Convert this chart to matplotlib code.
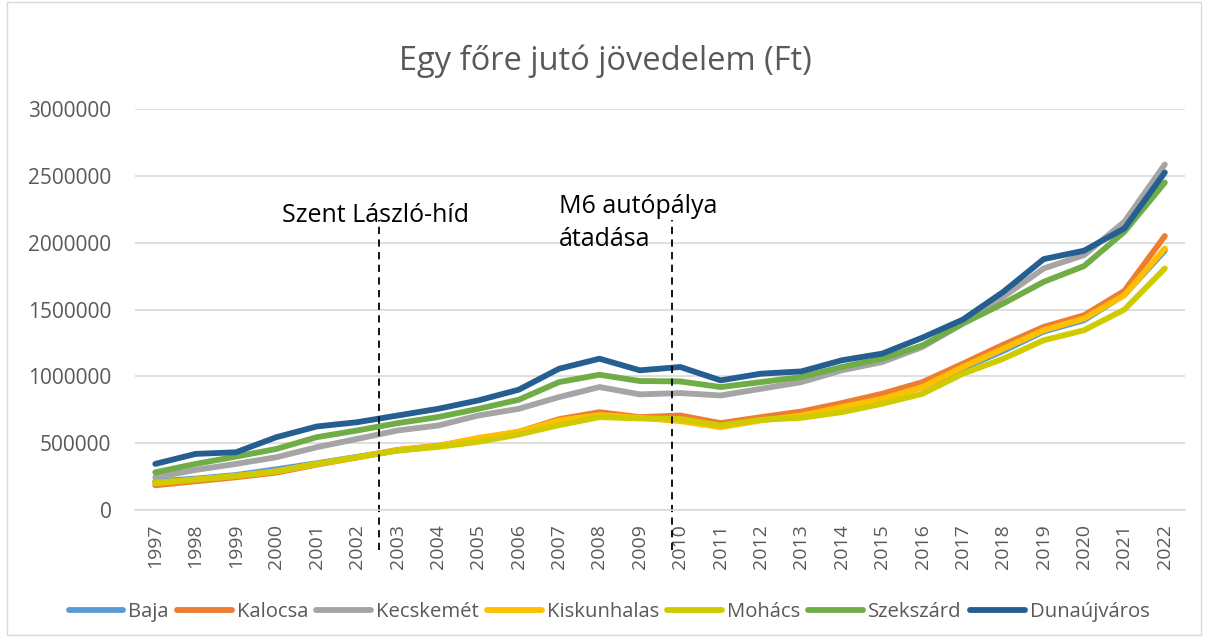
import numpy as np
import matplotlib
matplotlib.use("Agg")
from matplotlib import pyplot as plt
from matplotlib.patches import Rectangle

plt.rcParams['font.family'] = ['Open Sans', 'DejaVu Sans']

years = [str(y) for y in range(1997, 2023)]

baja = [215000, 235000, 262000, 305000, 350000, 398000, 445000, 478000, 530000, 575000,
        665000, 715000, 690000, 680000, 635000, 680000, 715000, 770000, 835000, 920000,
        1060000, 1190000, 1335000, 1420000, 1610000, 1940000]
kalocsa = [185000, 215000, 245000, 280000, 340000, 393000, 450000, 480000, 535000, 585000,
           680000, 732000, 695000, 707000, 650000, 695000, 737000, 800000, 870000, 957000,
           1095000, 1237000, 1370000, 1457000, 1640000, 2050000]
kecskemet = [245000, 300000, 345000, 395000, 470000, 532000, 595000, 632000, 707000, 757000,
             845000, 920000, 865000, 875000, 857000, 907000, 957000, 1045000, 1107000, 1220000,
             1395000, 1595000, 1807000, 1907000, 2157000, 2585000]
kiskunhalas = [200000, 228000, 255000, 290000, 345000, 395000, 448000, 478000, 540000, 585000,
               670000, 710000, 690000, 665000, 620000, 670000, 707000, 770000, 832000, 920000,
               1070000, 1207000, 1345000, 1432000, 1607000, 1957000]
mohacs = [205000, 228000, 255000, 288000, 345000, 395000, 445000, 472000, 510000, 565000,
          635000, 695000, 685000, 682000, 632000, 675000, 690000, 732000, 795000, 870000,
          1020000, 1132000, 1270000, 1345000, 1500000, 1807000]
szekszard = [282000, 345000, 400000, 457000, 545000, 595000, 650000, 695000, 757000, 825000,
             957000, 1012000, 965000, 962000, 920000, 957000, 995000, 1070000, 1132000, 1232000,
             1395000, 1545000, 1707000, 1825000, 2082000, 2450000]
dunaujvaros = [345000, 420000, 432000, 545000, 625000, 657000, 707000, 757000, 820000, 900000,
               1057000, 1132000, 1045000, 1070000, 970000, 1020000, 1037000, 1120000, 1170000, 1290000,
               1425000, 1632000, 1877000, 1940000, 2107000, 2525000]

series = [
    ("Baja", baja, "#5B9BD5"),
    ("Kalocsa", kalocsa, "#ED7D31"),
    ("Kecskemét", kecskemet, "#A5A5A5"),
    ("Kiskunhalas", kiskunhalas, "#FFC000"),
    ("Mohács", mohacs, "#CFCB00"),
    ("Szekszárd", szekszard, "#70AD47"),
    ("Dunaújváros", dunaujvaros, "#255E91"),
]

# event markers, x in category units
event_x = [5.55, 12.8]
event_top = 2170000

fig = plt.figure(figsize=(12.06, 6.43), dpi=100)
ax = fig.add_axes([0.112, 0.2068, 0.8706, 0.6237])

x = np.arange(len(years))
for name, vals, col in series:
    ax.plot(x, vals, color=col, lw=4.2, label=name, solid_capstyle='round', solid_joinstyle='round')

ax.set_xlim(-0.5, len(years) - 0.5)
ax.set_ylim(0, 3000000)
ax.set_yticks(np.arange(0, 3000001, 500000))
ax.set_yticklabels([str(v) for v in range(0, 3000001, 500000)])
ax.set_xticks(x)
ax.set_xticklabels(years, rotation=90)
ax.tick_params(axis='both', length=0, colors='#595959')
ax.tick_params(axis='x', pad=10, labelsize=14)
ax.tick_params(axis='y', pad=17, labelsize=15)
ax.grid(axis='y', color='#D9D9D9', lw=1.2)
ax.set_axisbelow(True)
for s in ['top', 'right', 'left']:
    ax.spines[s].set_visible(False)
ax.spines['bottom'].set_color('#D9D9D9')
ax.spines['bottom'].set_linewidth(1.2)

# dashed event lines and labels
for ex in event_x:
    ax.plot([ex, ex], [-300000, event_top], color='black', lw=1.3, ls=(0, (4, 3)), clip_on=False)
ax.text(3.15, 2155000, "Szent László-híd", fontsize=18, color='black', ha='left', va='baseline')
ax.text(10.0, 2222000, "M6 autópálya", fontsize=18, color='black', ha='left', va='baseline')
ax.text(10.0, 1975000, "átadása", fontsize=18, color='black', ha='left', va='baseline')

fig.text(0.502, 0.905, "Egy főre jutó jövedelem (Ft)", ha='center', va='center',
         fontsize=23.5, color='#595959')

leg = fig.legend(loc='center', bbox_to_anchor=(0.505, 0.048), ncol=7, frameon=False,
                 fontsize=14.6, handlelength=2.7, handletextpad=0.25, columnspacing=0.4)
for t in leg.get_texts():
    t.set_color('#595959')
for h in leg.get_lines():
    h.set_linewidth(4.2)

fig.patches.append(Rectangle((0.006, 0.012), 0.99, 0.985, transform=fig.transFigure,
                             fill=False, edgecolor='#D9D9D9', lw=1))

fig.savefig("out.png", dpi=100)
